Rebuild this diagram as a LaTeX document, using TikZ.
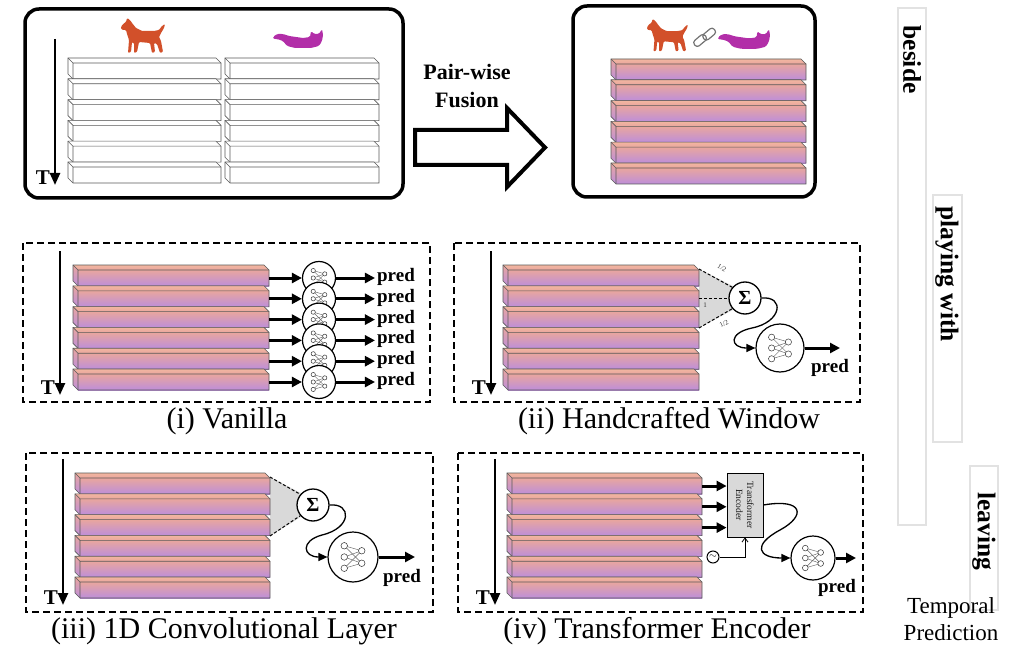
\documentclass[tikz,border=0pt]{standalone}
\usepackage{fontspec}
\setmainfont{Liberation Serif}
\usetikzlibrary{arrows.meta,backgrounds}

\definecolor{barTop}{RGB}{242,182,160}
\definecolor{barHi}{RGB}{233,166,158}
\definecolor{barLo}{RGB}{189,142,218}
\definecolor{dogC}{RGB}{210,80,42}
\definecolor{catC}{RGB}{178,46,168}
\definecolor{winGray}{RGB}{217,217,217}
\definecolor{relEdge}{RGB}{226,226,226}

\newcommand{\fsz}[1]{\fontsize{#1}{#1}\selectfont}

\newcommand{\plainbar}[3]{%
  \draw[barline,fill=white] (#1,#2) -- ++(#3,0) -- ++(5,5) -- ++(0,16) -- ++(-#3,0) -- ++(-5,-5) -- cycle;
  \draw[barline] (#1,#2) -- ++(5,5) -- ++(#3,0) (#1+5,#2+5) -- ++(0,16);
}
\newcommand{\fusedbar}[3]{%
  \shade[top color=barTop,bottom color=barHi] (#1,#2) -- ++(#3,0) -- ++(5,5) -- ++(-#3,0) -- cycle;
  \shade[top color=barHi,bottom color=barLo] (#1,#2) -- ++(5,5) -- ++(0,16) -- ++(-5,-5) -- cycle;
  \shade[top color=barHi,bottom color=barLo] (#1+5,#2+5) rectangle ++(#3,16);
  \draw[barline] (#1,#2) -- ++(#3,0) -- ++(5,5) -- ++(0,16) -- ++(-#3,0) -- ++(-5,-5) -- cycle;
  \draw[barline] (#1,#2) -- ++(5,5) -- ++(#3,0) (#1+5,#2+5) -- ++(0,16);
}
\newcommand{\timeaxis}[4]{%
  \coordinate (#1s) at (#2,#3);
  \coordinate (#1e) at (#2,#4);
  \draw[timearrow] (#1s) -- (#1e);
  \node[tlabel,anchor=south east,xshift=-5pt,inner sep=0pt] (#1T) at (#1e) {T};
}
% small network drawn inside a circle node #1 of radius #2
\newcommand{\nnicon}[2]{%
  \begin{scope}[shift={(#1.center)}]
    \foreach \u in {-0.45,0,0.45}
      \foreach \v in {-0.25,0.25} \draw[nnedge] (-0.35*#2,\u*#2) -- (0.35*#2,\v*#2);
    \foreach \u in {-0.45,0,0.45} \draw[nnunit] (-0.35*#2,\u*#2) circle (0.13*#2);
    \foreach \v in {-0.25,0.25} \draw[nnunit] (0.35*#2,\v*#2) circle (0.13*#2);
  \end{scope}
}
\newcommand{\dogicon}[3]{%
  \fill[dogC,rounded corners=1pt,shift={(#1,#2)},scale=#3]
    (0,9) -- (2,6) -- (5,4) -- (6,0) -- (9,2) -- (11,5) -- (15,10) -- (21,13) -- (33,13) -- (38,12)
    -- (41,8) -- (44,6) -- (43,10) -- (40,15) -- (38,19) -- (40,23) -- (42,34) -- (39,35) -- (36,26)
    -- (33,25) -- (34,34) -- (31,35) -- (29,25) -- (18,24) -- (16,34) -- (13,35) -- (13,25) -- (11,24)
    -- (10,34) -- (7,35) -- (8,22) -- (6,16) -- (5,12) -- (2,12) -- (0,11) -- cycle;
}
\newcommand{\caticon}[3]{%
  \fill[catC,rounded corners=1.5pt,shift={(#1,#2)},scale=#3]
    (0,9) -- (4,6) -- (10,6) -- (16,8) -- (30,10) -- (37,9) -- (38,3) -- (41,6) -- (46,6) -- (49,1)
    -- (50,7) -- (49,13) -- (46,18) -- (38,20) -- (22,20) -- (14,18) -- (10,13) -- (4,11) -- (0,11) -- cycle;
}

\tikzset{
  barline/.style={draw=black!65,line width=0.6pt},
  roundbox/.style={draw,line width=3.5pt,rounded corners=14pt},
  dashbox/.style={draw,line width=1.4pt,dash pattern=on 7pt off 4pt},
  timearrow/.style={line width=2.4pt,-{Triangle[length=12pt,width=10pt]}},
  fatarrow/.style={line width=3pt,-{Triangle[length=10pt,width=10pt]}},
  curvearrow/.style={line width=1.3pt,-{Triangle[length=9pt,width=8pt]}},
  tlabel/.style={font=\bfseries\fsz{21}},
  predlabel/.style={font=\bfseries\fsz{19},inner sep=2pt},
  caption/.style={font=\fsz{30}},
  sumnode/.style={circle,draw,line width=1.3pt,fill=white,minimum size=32pt,inner sep=0pt,font=\bfseries\fsz{20}},
  nnedge/.style={draw=black!60,line width=0.45pt},
  nnunit/.style={draw=black!80,fill=white,line width=0.5pt},
  nnet/.style={circle,draw,line width=1.2pt,fill=white,minimum size=#1,inner sep=0pt},
  window/.style={fill=winGray},
  winedge/.style={line width=1pt,dash pattern=on 3pt off 2pt},
  wlabel/.style={font=\fsz{7},text=black!80,inner sep=0pt},
  encoder/.style={draw,fill=winGray,line width=0.8pt,minimum width=36pt,minimum height=64pt},
  enctext/.style={font=\fontsize{9.5}{11}\selectfont,align=center,text=black!90,rotate=-90},
  posenc/.style={circle,draw,line width=1pt,fill=white,minimum size=12pt,inner sep=0pt,font=\fsz{10}},
  relbar/.style={draw=relEdge,line width=1.5pt},
  reltext/.style={font=\bfseries\fsz{25.5},rotate=-90,anchor=west},
}

\begin{document}
\begin{tikzpicture}[x=1pt,y=-1pt]
\useasboundingbox (0,0) rectangle (1012,647);

% two separate streams
\draw[roundbox] (25,9) rectangle (403,198);
\foreach \i in {0,...,5} {\plainbar{68}{58+20.8*\i}{148}\plainbar{225}{58+20.8*\i}{149}}
\timeaxis{t0}{55}{39}{185}
\dogicon{121}{18}{1}
\caticon{273}{28}{1}

% fused stream
\draw[roundbox] (573,6) rectangle (815,197);
\foreach \i in {0,...,5} {\fusedbar{611}{59+20.8*\i}{190}}
\dogicon{647}{19}{0.93}
\caticon{718}{28}{1.04}
\begin{scope}[draw=black!55,line width=1.2pt,rounded corners=3pt,rotate around={40:(705,37)}]
  \draw (692,33) rectangle (706,40);
  \draw (703,34) rectangle (717,41);
\end{scope}

\draw[line width=4pt,fill=white,line join=miter] (415,130) -- (507,130) -- (507,108) -- (545,147.5)
  -- (507,187) -- (507,165) -- (415,165) -- cycle;
\node[font=\bfseries\fontsize{22}{28}\selectfont,align=center] (fuse) at (467,86) {Pair-wise\\Fusion};

% (i)
\draw[dashbox] (23,243) rectangle (430,402);
\timeaxis{t1}{60}{251}{395}
\foreach \i in {0,...,5} {
  \fusedbar{73}{265+20.8*\i}{191}
  \coordinate (a\i) at (269,278+20.8*\i);
  \node[nnet=33] (n\i) at (319,278+20.8*\i) {};
  \nnicon{n\i}{16.5}
  \node[predlabel] (p\i) at (396,277+20.8*\i) {pred};
  \draw[fatarrow] (a\i) -- (n\i.west);
  \draw[fatarrow] (n\i.east) -- (n\i.east -| p\i.west);
}
\node[caption] (cap1) at (227,421) {(i) Vanilla};

% (ii)
\draw[dashbox] (454,243) rectangle (860,402);
\timeaxis{t2}{491}{251}{395}
\foreach \i in {0,...,5} {\fusedbar{503}{265+20.8*\i}{191}}
\coordinate (w2t) at (699,269);
\coordinate (w2m) at (699,298);
\coordinate (w2b) at (699,328);
\node[sumnode] (sum2) at (745,298) {Σ};
\begin{scope}[on background layer]
  \fill[window] (w2t) -- (sum2.135) -- (sum2.225) -- (w2b) -- cycle;
\end{scope}
\draw[winedge] (w2t) -- (sum2.140);
\draw[winedge] (w2m) -- (sum2.west);
\draw[winedge] (w2b) -- (sum2.220);
\node[wlabel,rotate=-30] (h1) at (722,268) {1/2};
\node[wlabel] (h2) at (705,305) {1};
\node[wlabel,rotate=25] (h3) at (724,324) {1/2};
\node[nnet=48] (nn2) at (780,348) {};
\nnicon{nn2}{24}
\draw[curvearrow] (sum2.east) .. controls (785,296) and (782,322) .. (752,328)
  .. controls (728,333) and (730,348) .. (nn2.west);
\coordinate (o2) at (840,348);
\draw[fatarrow] (nn2.east) -- (o2);
\node[predlabel] (pred2) at (830,368) {pred};
\node[caption] (cap2) at (669,421) {(ii) Handcrafted Window};

% (iii)
\draw[dashbox] (26,453) rectangle (433,612);
\timeaxis{t3}{63}{459}{605}
\foreach \i in {0,...,5} {\fusedbar{75}{473+20.8*\i}{190}}
\coordinate (w3t) at (270,477);
\coordinate (w3b) at (270,536);
\node[sumnode] (sum3) at (313,505) {Σ};
\begin{scope}[on background layer]
  \fill[window] (w3t) -- (sum3.135) -- (sum3.225) -- (w3b) -- cycle;
\end{scope}
\draw[winedge] (w3t) -- (sum3.140);
\draw[winedge] (w3b) -- (sum3.220);
\node[nnet=50] (nn3) at (353,557) {};
\nnicon{nn3}{25}
\draw[curvearrow] (sum3.east) .. controls (352,503) and (352,528) .. (322,535)
  .. controls (300,541) and (303,557) .. (nn3.west);
\coordinate (o3) at (415,557);
\draw[fatarrow] (nn3.east) -- (o3);
\node[predlabel] (pred3) at (402,578) {pred};
\node[caption] (cap3) at (224,631) {(iii) 1D Convolutional Layer};

% (iv)
\draw[dashbox] (458,453) rectangle (863,612);
\timeaxis{t4}{495}{459}{605}
\foreach \i in {0,...,5} {\fusedbar{507}{473+20.8*\i}{190}}
\node[encoder] (te) at (745,505) {};
\node[enctext] (tet) at (te.center) {Transformer\\Encoder};
\foreach \i in {0,1,2} {
  \coordinate (e\i) at (702,486+20.8*\i);
  \draw[fatarrow] (e\i) -- (e\i -| te.west);
}
\node[posenc] (pe) at (713,557) {$\sim$};
\draw[line width=0.8pt,-{Straight Barb[length=4pt,width=6pt]}] (pe.east) -| (te.south);
\node[nnet=44] (nn4) at (813,558) {};
\nnicon{nn4}{22}
\draw[curvearrow] (te.east) .. controls (804,498) and (806,516) .. (780,530)
  .. controls (752,545) and (758,558) .. (nn4.west);
\coordinate (o4) at (856,558);
\draw[fatarrow] (nn4.east) -- (o4);
\node[predlabel] (pred4) at (837,588) {pred};
\node[caption] (cap4) at (657,631) {(iv) Transformer Encoder};

% relations over time
\draw[relbar] (898,8) rectangle (926,525);
\draw[relbar] (933,195) rectangle (962,442);
\draw[relbar] (970,466) rectangle (998,610);
\node[reltext] (rl1) at (912,22) {beside};
\node[reltext] (rl2) at (947,203) {playing with};
\node[reltext] (rl3) at (984,489) {leaving};
\node[font=\fontsize{23}{27}\selectfont,align=center] (tp) at (951,619) {Temporal\\Prediction};
\end{tikzpicture}
\end{document}
